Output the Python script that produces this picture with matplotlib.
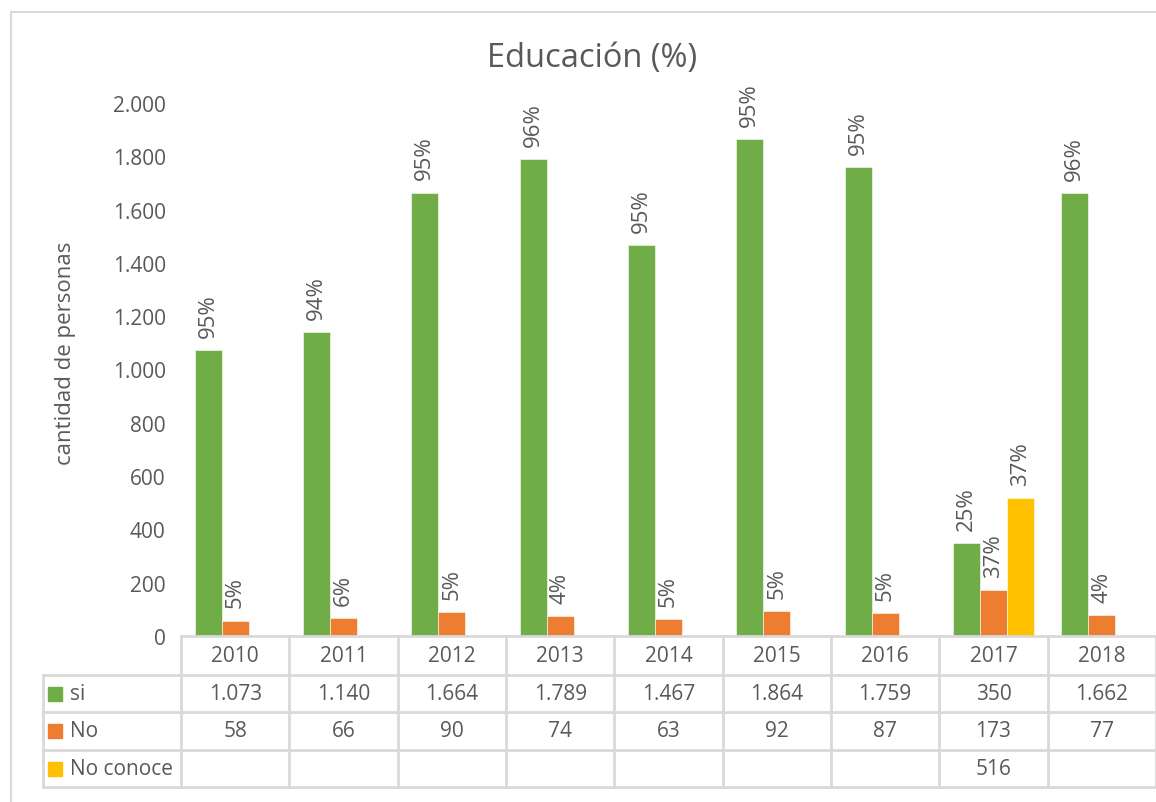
import matplotlib
matplotlib.use("Agg")
import matplotlib.pyplot as plt
from matplotlib import transforms
from matplotlib.patches import Rectangle
from matplotlib.lines import Line2D

plt.rcParams['font.family'] = ['Open Sans', 'DejaVu Sans']

# data
years = ["2010", "2011", "2012", "2013", "2014", "2015", "2016", "2017", "2018"]
si = [1073, 1140, 1664, 1789, 1467, 1864, 1759, 350, 1662]
no = [58, 66, 90, 74, 63, 92, 87, 173, 77]
no_conoce = [None, None, None, None, None, None, None, 516, None]
si_pct = ["95%", "94%", "95%", "96%", "95%", "95%", "95%", "25%", "96%"]
no_pct = ["5%", "6%", "5%", "4%", "5%", "5%", "5%", "37%", "4%"]
nc_pct = [None, None, None, None, None, None, None, "37%", None]
series_names = ["si", "No", "No conoce"]
colors = ["#70AD47", "#ED7D31", "#FFC000"]
grey = "#595959"
line_col = "#D9D9D9"
fs = 15

W, H = 1156, 803
fig = plt.figure(figsize=(W / 100, H / 100), dpi=100)

def fx(px):
    return px / W

def fy(py):
    return 1 - py / H

# chart border
fig.add_artist(Rectangle((fx(11), fy(830)), fx(1200), fy(13) - fy(830), transform=fig.transFigure,
                         fill=False, edgecolor=line_col, lw=1.5))

ax = fig.add_axes([fx(181), fy(637), 1 - fx(181), fy(104) - fy(637)])
ax.set_xlim(-0.5, len(years) - 0.5)
ax.set_ylim(0, 2000)
for s in ax.spines.values():
    s.set_visible(False)
ax.set_xticks([])
ax.set_yticks(range(0, 2001, 200))
ax.set_yticklabels([f"{v:,}".replace(",", ".") for v in range(0, 2001, 200)])
ax.tick_params(axis="y", length=0, pad=11, labelsize=fs, labelcolor=grey)

w = 0.25
x = list(range(len(years)))
all_vals = [si, no, no_conoce]
all_pct = [si_pct, no_pct, nc_pct]
for k, (vals, pcts) in enumerate(zip(all_vals, all_pct)):
    off = (k - 1) * w
    for i, v in enumerate(vals):
        if v is None:
            continue
        ax.bar(x[i] + off, v, width=w, color=colors[k], edgecolor="white", linewidth=0.4)
        ax.annotate(pcts[i], (x[i] + off, v), xytext=(0, 9.5), textcoords="offset points",
                    rotation=90, ha="center", va="bottom", fontsize=16, color=grey)

ax.set_ylabel("cantidad de personas", fontsize=16, color=grey)
ax.yaxis.set_label_coords(fx(65), fy(353), transform=fig.transFigure)
ax.yaxis.label.set_va("center")
fig.text(fx(592), fy(58), "Educación (%)", ha="center", va="center", fontsize=23.5, color=grey)

# data table under the axis
bt = transforms.blended_transform_factory(ax.transData, fig.transFigure)
rows_y = [637, 676, 713, 751, 788]
for j, py in enumerate(rows_y):
    x0 = 181 if j == 0 else 43
    fig.add_artist(Line2D([fx(x0), 1.0], [fy(py), fy(py)], transform=fig.transFigure,
                          color=line_col, lw=2))
for c in range(len(years) + 1):
    fig.add_artist(Line2D([c - 0.5, c - 0.5], [fy(637), fy(788)], transform=bt,
                          color=line_col, lw=2))
fig.add_artist(Line2D([fx(43), fx(43)], [fy(676), fy(788)], transform=fig.transFigure,
                      color=line_col, lw=2))

for i, yr in enumerate(years):
    fig.text(i, fy(656.5), yr, transform=bt, ha="center", va="center", fontsize=fs, color=grey)
for r, vals in enumerate(all_vals):
    yc = fy((rows_y[r + 1] + rows_y[r + 2]) / 2)
    fig.add_artist(Rectangle((fx(48), yc - 7 / H), 14 / W, 14 / H, transform=fig.transFigure,
                             color=colors[r]))
    fig.text(fx(70), yc, series_names[r], ha="left", va="center", fontsize=fs, color=grey)
    for i, v in enumerate(vals):
        if v is None:
            continue
        fig.text(i, yc, f"{v:,}".replace(",", "."), transform=bt, ha="center", va="center",
                 fontsize=fs, color=grey)

fig.savefig("out.png", dpi=100)
